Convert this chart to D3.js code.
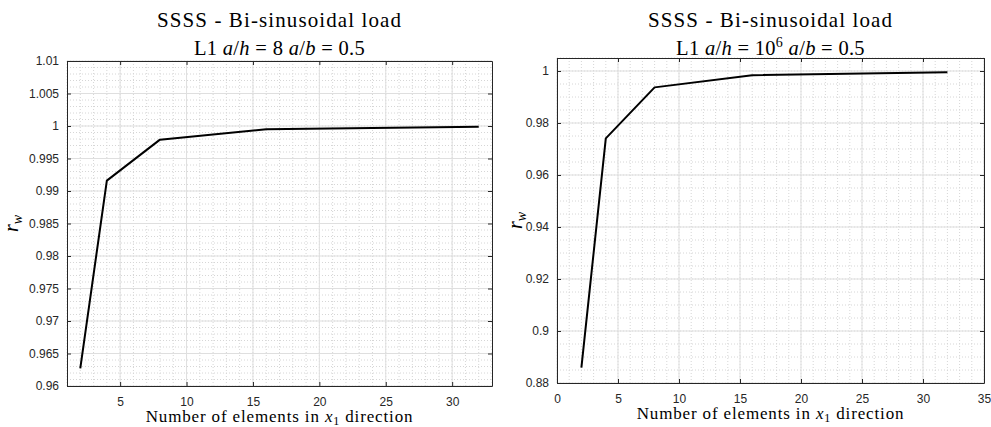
<!DOCTYPE html>
<html>
<head>
<meta charset="utf-8">
<script src="https://cdn.jsdelivr.net/npm/d3@7"></script>
<style>
body { margin: 0; background: #fff; }
.tick text { font-family: "Liberation Sans", Arial, sans-serif; font-size: 12px; fill: #262626; }
.serif { font-family: "Liberation Serif", "Times New Roman", serif; fill: #000; }
</style>
</head>
<body>
<div id="chart"></div>
<script>
// number of elements along x1
var elements = [2, 4, 8, 16, 32];
// r_w values, a/h = 8
var rwThick = [0.9627, 0.9916, 0.9979, 0.9995, 0.9999];
// r_w values, a/h = 10^6
var rwThin = [0.8859, 0.9741, 0.9937, 0.9984, 0.9995];

var leftXTicks = [5, 10, 15, 20, 25, 30];
var leftYTicks = [0.96, 0.965, 0.97, 0.975, 0.98, 0.985, 0.99, 0.995, 1, 1.005, 1.01];
var rightXTicks = [0, 5, 10, 15, 20, 25, 30, 35];
var rightYTicks = [0.88, 0.9, 0.92, 0.94, 0.96, 0.98, 1];

var svg = d3.select("#chart")
  .append("svg")
  .attr("width", 991)
  .attr("height", 427);

function fmt(v) { return String(+v.toFixed(3)); }

function drawPanel(p) {
  var x = d3.scaleLinear().domain(p.xDomain).range([p.left, p.right]);
  var y = d3.scaleLinear().domain(p.yDomain).range([p.bottom, p.top]);
  var g = svg.append("g");

  // minor grid (dotted)
  g.selectAll(".mx").data(d3.range(p.xDomain[0], p.xDomain[1] + 1e-9, p.xMinor))
    .enter().append("line")
    .attr("x1", d => x(d)).attr("x2", d => x(d))
    .attr("y1", p.top).attr("y2", p.bottom)
    .attr("stroke", "#d6d6d6").attr("stroke-dasharray", "1,2");
  g.selectAll(".my").data(d3.range(0, Math.round((p.yDomain[1] - p.yDomain[0]) / p.yMinor) + 1)
      .map(i => p.yDomain[0] + i * p.yMinor))
    .enter().append("line")
    .attr("x1", p.left).attr("x2", p.right)
    .attr("y1", d => y(d)).attr("y2", d => y(d))
    .attr("stroke", "#d6d6d6").attr("stroke-dasharray", "1,2");

  // major grid
  g.selectAll(".gx").data(p.xTicks).enter().append("line")
    .attr("x1", d => x(d)).attr("x2", d => x(d))
    .attr("y1", p.top).attr("y2", p.bottom)
    .attr("stroke", "#dfdfdf");
  g.selectAll(".gy").data(p.yTicks).enter().append("line")
    .attr("x1", p.left).attr("x2", p.right)
    .attr("y1", d => y(d)).attr("y2", d => y(d))
    .attr("stroke", "#dfdfdf");

  // axes, ticks pointing inward like matlab
  var ax = g.append("g").attr("transform", "translate(0," + p.bottom + ")")
    .call(d3.axisBottom(x).tickValues(p.xTicks).tickFormat(fmt).tickSizeInner(-4).tickSizeOuter(0).tickPadding(11));
  var ay = g.append("g").attr("transform", "translate(" + p.left + ",0)")
    .call(d3.axisLeft(y).tickValues(p.yTicks).tickFormat(fmt).tickSizeInner(-4).tickSizeOuter(0).tickPadding(8));
  var at = g.append("g").attr("transform", "translate(0," + p.top + ")")
    .call(d3.axisTop(x).tickValues(p.xTicks).tickFormat("").tickSizeInner(-4).tickSizeOuter(0));
  var ar = g.append("g").attr("transform", "translate(" + p.right + ",0)")
    .call(d3.axisRight(y).tickValues(p.yTicks).tickFormat("").tickSizeInner(-4).tickSizeOuter(0));
  [ax, ay, at, ar].forEach(function(a) {
    a.selectAll("path, line").attr("stroke", "#262626");
  });

  // data line
  var line = d3.line().x(d => x(d[0])).y(d => y(d[1]));
  g.append("path")
    .datum(elements.map((e, i) => [e, p.values[i]]))
    .attr("d", line)
    .attr("fill", "none")
    .attr("stroke", "#000")
    .attr("stroke-width", 2)
    .attr("stroke-linejoin", "round");

  var cx = (p.left + p.right) / 2;

  // title
  g.append("text").attr("class", "serif").attr("x", cx).attr("y", 27)
    .attr("text-anchor", "middle").style("font-size", "21px").style("letter-spacing", "1.1px")
    .text("SSSS - Bi-sinusoidal load");
  var t2 = g.append("text").attr("class", "serif").attr("x", cx).attr("y", 55)
    .attr("text-anchor", "middle").style("font-size", "20.5px").style("letter-spacing", "0.3px");
  t2.append("tspan").text("L1 ");
  t2.append("tspan").style("font-style", "italic").text("a");
  t2.append("tspan").text("/");
  t2.append("tspan").style("font-style", "italic").text("h");
  t2.append("tspan").text(" = " + p.ratioText);
  if (p.ratioSup) {
    t2.append("tspan").attr("dy", -8).style("font-size", "14px").text(p.ratioSup);
    t2.append("tspan").attr("dy", 8).text(" ");
  } else {
    t2.append("tspan").text(" ");
  }
  t2.append("tspan").style("font-style", "italic").text("a");
  t2.append("tspan").text("/");
  t2.append("tspan").style("font-style", "italic").text("b");
  t2.append("tspan").text(" = 0.5");

  // x label
  var xl = g.append("text").attr("class", "serif").attr("x", cx).attr("y", p.bottom + 36)
    .attr("text-anchor", "middle").style("font-size", "17px").style("letter-spacing", "0.85px");
  xl.append("tspan").text("Number of elements in ");
  xl.append("tspan").style("font-style", "italic").text("x");
  xl.append("tspan").attr("dy", 3).style("font-size", "12px").text("1");
  xl.append("tspan").attr("dy", -3).text(" direction");

  // y label
  var yl = g.append("text").attr("class", "serif")
    .attr("transform", "translate(" + p.yLabelX + "," + ((p.top + p.bottom) / 2) + ") rotate(-90)")
    .attr("text-anchor", "middle").style("font-size", "20px");
  yl.append("tspan").style("font-style", "italic").text("r");
  yl.append("tspan").attr("dy", 4).style("font-size", "14px").style("font-style", "italic").text("w");
}

drawPanel({
  left: 67, right: 492, top: 61, bottom: 386,
  xDomain: [1, 33], yDomain: [0.96, 1.01],
  xTicks: leftXTicks, yTicks: leftYTicks,
  xMinor: 1, yMinor: 0.001,
  values: rwThick, ratioText: "8", ratioSup: null, yLabelX: 18
});

drawPanel({
  left: 557, right: 984, top: 58, bottom: 383,
  xDomain: [0, 35], yDomain: [0.88, 1.005],
  xTicks: rightXTicks, yTicks: rightYTicks,
  xMinor: 1, yMinor: 0.005,
  values: rwThin, ratioText: "10", ratioSup: "6", yLabelX: 522
});
</script>
</body>
</html>
